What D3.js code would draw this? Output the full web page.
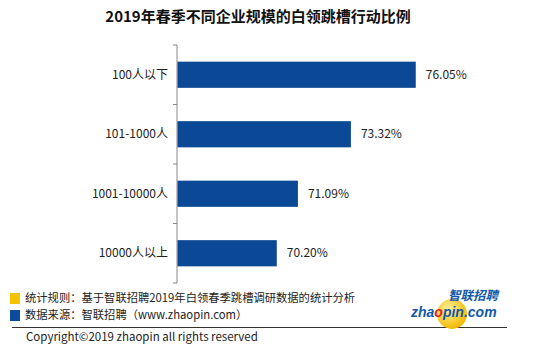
<!DOCTYPE html>
<html>
<head>
<meta charset="utf-8">
<script src="https://cdn.jsdelivr.net/npm/d3@7"></script>
<style>
  body { margin: 0; background: #fff; }
  text { font-family: "Noto Sans CJK SC", "Noto Sans", sans-serif; }
</style>
</head>
<body>
<div id="chart"></div>
<script>
// data
const categories = ["100人以下", "101-1000人", "1001-10000人", "10000人以上"];
const values = [76.05, 73.32, 71.09, 70.20];
const valueLabels = ["76.05%", "73.32%", "71.09%", "70.20%"];

const width = 550, height = 354;

const svg = d3.select("#chart")
  .append("svg")
  .attr("width", width)
  .attr("height", height);

// title
svg.append("text")
  .attr("x", 258)
  .attr("y", 22)
  .attr("text-anchor", "middle")
  .style("font-size", "15px")
  .style("font-weight", "bold")
  .style("fill", "#111")
  .text("2019年春季不同企业规模的白领跳槽行动比例");

// scales
const x = d3.scaleLinear()
  .domain([66, 80])
  .range([177, 509.6]);

const y = d3.scaleBand()
  .domain(categories)
  .range([45, 283])
  .paddingInner(0.56)
  .paddingOuter(0.28);

// left axis with ticks between bands
const axisG = svg.append("g");
axisG.append("line")
  .attr("x1", 177).attr("x2", 177)
  .attr("y1", 45).attr("y2", 283)
  .style("stroke", "#888");
const boundaries = categories.map(c => y(c) - y.step() * y.paddingInner() / 2);
boundaries.push(283);
boundaries[0] = 45;
axisG.selectAll(".tk")
  .data(boundaries)
  .join("line")
  .attr("x1", 173).attr("x2", 177)
  .attr("y1", d => d).attr("y2", d => d)
  .style("stroke", "#888");

// category labels
svg.selectAll(".cat")
  .data(categories)
  .join("text")
  .attr("x", 168)
  .attr("y", d => y(d) + y.bandwidth() / 2)
  .attr("dy", "0.35em")
  .attr("text-anchor", "end")
  .style("font-size", "12px")
  .style("fill", "#222")
  .text(d => d);

// bars
svg.selectAll(".bar")
  .data(values)
  .join("rect")
  .attr("x", x(66) + 0.5)
  .attr("y", (d, i) => y(categories[i]))
  .attr("width", d => x(d) - x(66) - 0.5)
  .attr("height", y.bandwidth())
  .style("fill", "#0b4896");

// value labels
svg.selectAll(".val")
  .data(values)
  .join("text")
  .attr("x", d => x(d) + 10)
  .attr("y", (d, i) => y(categories[i]) + y.bandwidth() / 2)
  .attr("dy", "0.35em")
  .style("font-size", "12px")
  .style("fill", "#222")
  .text((d, i) => valueLabels[i]);

// footer notes
const notes = [
  { color: "#f5c200", text: "统计规则：基于智联招聘2019年白领春季跳槽调研数据的统计分析", y: 298 },
  { color: "#0b4a9c", text: "数据来源：智联招聘（www.zhaopin.com）", y: 315 }
];
svg.selectAll(".sw")
  .data(notes)
  .join("rect")
  .attr("x", 10)
  .attr("y", d => d.y - 5)
  .attr("width", 10)
  .attr("height", 11)
  .style("fill", d => d.color);
svg.selectAll(".note")
  .data(notes)
  .join("text")
  .attr("x", 25)
  .attr("y", d => d.y)
  .attr("dy", "0.35em")
  .style("font-size", "11.3px")
  .style("fill", "#222")
  .text(d => d.text);

svg.append("line")
  .attr("x1", 12).attr("x2", 507)
  .attr("y1", 327.5).attr("y2", 327.5)
  .style("stroke", "#333");

svg.append("text")
  .attr("x", 26)
  .attr("y", 337)
  .attr("dy", "0.35em")
  .style("font-size", "11.5px")
  .style("fill", "#222")
  .text("Copyright©2019 zhaopin all rights reserved");

// logo
const logo = svg.append("g");
const grad = svg.append("defs").append("radialGradient")
  .attr("id", "sun").attr("cx", "40%").attr("cy", "35%").attr("r", "65%");
grad.append("stop").attr("offset", "0%").attr("stop-color", "#fff3a0");
grad.append("stop").attr("offset", "100%").attr("stop-color", "#f2b800");
logo.append("circle")
  .attr("cx", 452).attr("cy", 314).attr("r", 15)
  .style("fill", "url(#sun)");
logo.append("text")
  .attr("x", 498).attr("y", 296)
  .attr("dy", "0.35em")
  .attr("text-anchor", "end")
  .style("font-size", "12.5px")
  .style("font-weight", "bold")
  .style("font-style", "italic")
  .style("fill", "#1458a8")
  .text("智联招聘");
const brand = logo.append("text")
  .attr("x", 411).attr("y", 312)
  .attr("dy", "0.35em")
  .style("font-family", "'Liberation Sans', Arial, sans-serif")
  .style("font-size", "14px")
  .style("font-weight", "bold")
  .style("font-style", "italic")
  .style("fill", "#1458a8");
brand.append("tspan").text("zha");
brand.append("tspan").style("fill", "#d8261c").text("o");
brand.append("tspan").text("pin.com");
</script>
</body>
</html>
